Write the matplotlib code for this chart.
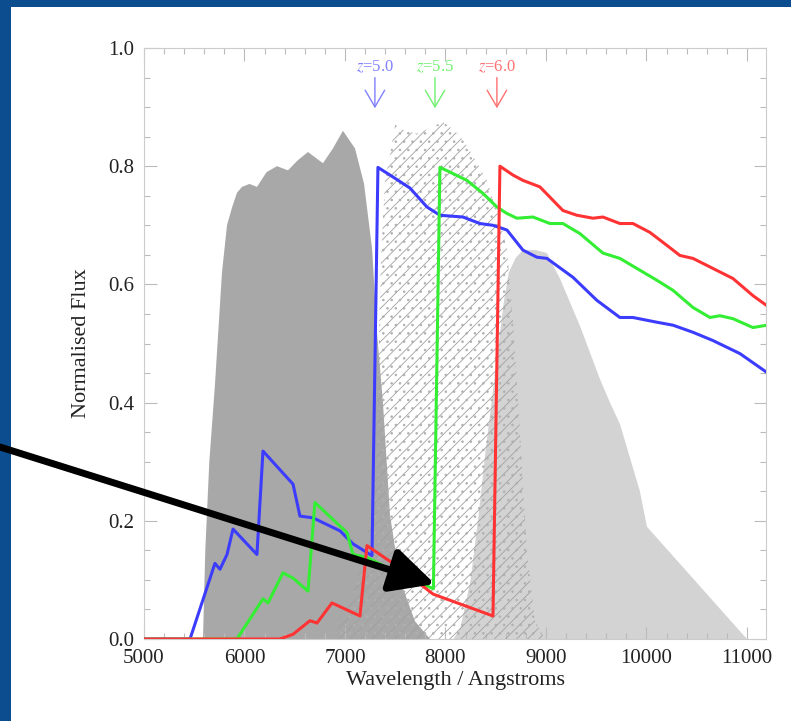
import matplotlib
matplotlib.use("Agg")
import matplotlib.pyplot as plt
from matplotlib.patches import Rectangle
from matplotlib.ticker import MultipleLocator

plt.rcParams["font.family"] = ["Liberation Serif", "DejaVu Serif"]
plt.rcParams["mathtext.fontset"] = "stix"
plt.rcParams["hatch.linewidth"] = 0.6

# filter curves (r, i, z)
r_wave = [5560, 5587, 5610, 5650, 5706, 5776, 5826, 5876, 5925, 5975, 6050, 6124, 6220, 6323,
          6433, 6530, 6632, 6781, 6880, 6980, 7100, 7190, 7270, 7318, 7378, 7448, 7547, 7697, 7846]
r_thru = [0, 0, 0.15, 0.3, 0.43, 0.62, 0.70, 0.73, 0.755, 0.765, 0.77, 0.765, 0.79, 0.80,
          0.793, 0.81, 0.824, 0.805, 0.83, 0.86, 0.83, 0.77, 0.66, 0.52, 0.4, 0.21, 0.1, 0.03, 0]

i_wave = [6881, 7000, 7119, 7220, 7300, 7330, 7360, 7400, 7448, 7498, 7600, 7716, 7850, 7975,
          8094, 8194, 8300, 8413, 8520, 8612, 8672, 8741, 8811, 8891, 8990]
i_thru = [0, 0.04, 0.1, 0.17, 0.27, 0.45, 0.65, 0.78, 0.82, 0.87, 0.86, 0.855, 0.865, 0.875,
          0.86, 0.84, 0.81, 0.776, 0.72, 0.66, 0.54, 0.35, 0.15, 0.03, 0]

z_wave = [8080, 8150, 8250, 8330, 8400, 8480, 8530, 8580, 8630, 8700, 8771, 8900, 9010, 9139,
          9338, 9537, 9637, 9736, 9935, 10005, 11000]
z_thru = [0, 0.02, 0.1, 0.21, 0.32, 0.43, 0.5, 0.57, 0.62, 0.645, 0.658, 0.658, 0.653, 0.61,
          0.53, 0.44, 0.40, 0.364, 0.25, 0.19, 0]

# redshifted spectra
blue_wave = [5000, 5458, 5706, 5756, 5826, 5886, 6124, 6184, 6483, 6552, 6682, 6950, 7080, 7269,
             7328, 7448, 7647, 7816, 7945, 8174, 8343, 8473, 8612, 8771, 8910, 9010, 9269, 9507,
             9736, 9866, 10104, 10264, 10463, 10662, 10930, 11199]
blue_flux = [0, 0, 0.128, 0.118, 0.143, 0.186, 0.143, 0.318, 0.262, 0.208, 0.205, 0.183, 0.161, 0.141,
             0.798, 0.785, 0.763, 0.731, 0.717, 0.714, 0.703, 0.70, 0.692, 0.658, 0.646, 0.644, 0.612, 0.573,
             0.544, 0.544, 0.536, 0.531, 0.519, 0.505, 0.483, 0.451]

green_wave = [5000, 5925, 6184, 6234, 6383, 6483, 6632, 6701, 7020, 7080, 7219, 7547, 7880, 7945,
              8045, 8214, 8373, 8512, 8612, 8711, 8871, 9040, 9169, 9338, 9567, 9736, 9905, 10104,
              10264, 10463, 10632, 10731, 10861, 11060, 11199]
green_flux = [0, 0, 0.068, 0.061, 0.112, 0.103, 0.081, 0.231, 0.18, 0.143, 0.138, 0.11, 0.085, 0.798,
              0.79, 0.776, 0.754, 0.731, 0.72, 0.712, 0.714, 0.703, 0.703, 0.686, 0.653, 0.644, 0.627, 0.607,
              0.59, 0.561, 0.544, 0.547, 0.542, 0.527, 0.531]

red_wave = [5000, 6353, 6483, 6652, 6721, 6871, 7149, 7219, 7547, 7876, 8473, 8542, 8672, 8771,
            8940, 9169, 9308, 9468, 9567, 9736, 9866, 10035, 10204, 10333, 10463, 10662, 10861, 11060, 11199]
red_flux = [0, 0, 0.008, 0.031, 0.027, 0.061, 0.039, 0.158, 0.12, 0.076, 0.039, 0.80, 0.785, 0.776,
            0.765, 0.725, 0.717, 0.712, 0.714, 0.703, 0.703, 0.688, 0.666, 0.649, 0.644, 0.627, 0.61, 0.581, 0.564]

z_labels = ["5.0", "5.5", "6.0"]
z_break = [7298, 7896, 8512]
label_colors = ["#8080ff", "#70f070", "#ff7070"]

fig = plt.figure(figsize=(7.91, 7.21), dpi=100, facecolor="#0b4d8e")
fig.patches.append(Rectangle((11 / 791, 0), 780 / 791, 1 - 7 / 721, transform=fig.transFigure,
                             facecolor="white", edgecolor="none", zorder=-5))
ax = fig.add_axes([144 / 791, 1 - 639 / 721, 622 / 791, 591 / 721])

ax.fill(r_wave, r_thru, facecolor="#a8a8a8", edgecolor="none", zorder=1)
ax.fill(z_wave, z_thru, facecolor="#d3d3d3", edgecolor="none", zorder=1)
# i band: diagonal lines plus dotted texture
ax.fill(i_wave, i_thru, facecolor="none", edgecolor="#a0a0a0", lw=0, hatch="///", zorder=2)
ax.fill(i_wave, i_thru, facecolor="none", edgecolor="#b0b0b0", lw=0, hatch="..", zorder=2)

ax.plot(blue_wave, blue_flux, color="#3c3cff", lw=2.2, zorder=3)
ax.plot(green_wave, green_flux, color="#33ee33", lw=2.2, zorder=3)
ax.plot(red_wave, red_flux, color="#ff3333", lw=2.2, zorder=3)

for zl, xb, c in zip(z_labels, z_break, label_colors):
    ax.text(xb, 0.968, r"$z$=" + zl, color=c, fontsize=12, ha="center", va="center")
    ax.annotate("", xy=(xb, 0.898), xytext=(xb, 0.95),
                arrowprops=dict(arrowstyle="->,head_length=0.6,head_width=0.35", color=c, lw=1.0,
                                shrinkA=0, shrinkB=0, mutation_scale=20))

ax.annotate("", xy=(7896, 0.093), xycoords="data", xytext=(0, 1 - 447 / 721),
            textcoords="figure fraction", annotation_clip=False,
            arrowprops=dict(arrowstyle="-|>,head_length=0.9,head_width=0.45", color="black", lw=5,
                            shrinkA=0, shrinkB=0, mutation_scale=30), zorder=5)

ax.set_xlim(5000, 11190)
ax.set_ylim(0, 1.0)
ax.set_xticks(range(5000, 11001, 1000))
ax.set_yticks([0, 0.2, 0.4, 0.6, 0.8, 1.0])
ax.set_yticklabels(["0.0", "0.2", "0.4", "0.6", "0.8", "1.0"])
ax.xaxis.set_minor_locator(MultipleLocator(200))
ax.yaxis.set_minor_locator(MultipleLocator(0.05))
ax.tick_params(which="both", direction="in", top=True, right=True, color="#bbbbbb",
               labelcolor="#222222", labelsize=15)
ax.tick_params(which="major", length=9, width=0.8, pad=7)
ax.tick_params(which="minor", length=4, width=0.8)
for s in ax.spines.values():
    s.set_color("#cccccc")

ax.set_xlabel("Wavelength / Angstroms", fontsize=16, color="#222222", labelpad=2)
ax.set_ylabel("Normalised Flux", fontsize=16, color="#222222", labelpad=12)

fig.savefig("out.png", dpi=100, facecolor=fig.get_facecolor())
